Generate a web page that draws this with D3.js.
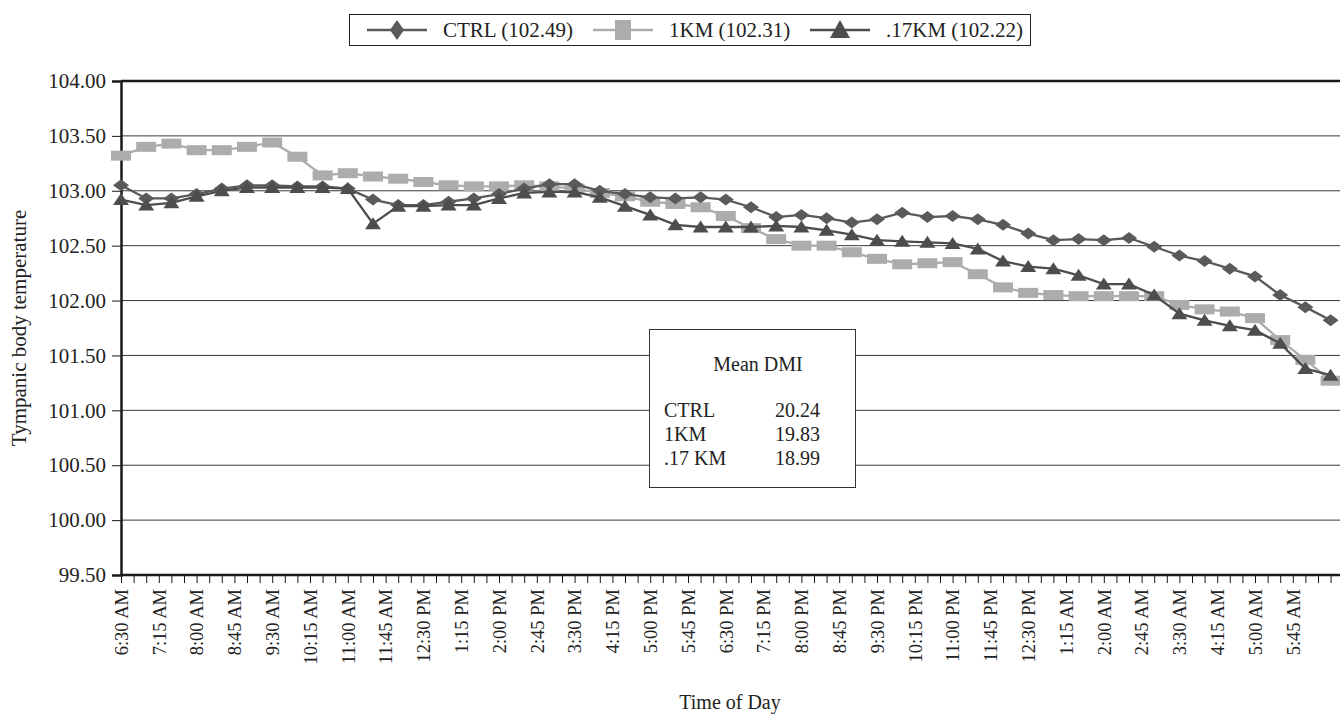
<!DOCTYPE html>
<html>
<head>
<meta charset="utf-8">
<script src="https://cdn.jsdelivr.net/npm/d3@7"></script>
<style>
  body { margin: 0; background: #fff; }
  svg { display: block; }
  svg text { font-family: "Liberation Serif", "DejaVu Serif", serif; fill: #222; }
  .grid line { stroke: #3a3a3a; stroke-width: 1; }
</style>
</head>
<body>
<div id="vis"></div>
<script>
// Chart area
const WIDTH = 1340;
const HEIGHT = 715;
const PLOT = {left: 121, top: 81, bottom: 575, slot: 12.6};

// tick labels on the x axis, one label every third 15-minute tick
const X_LABELS = ["6:30 AM","7:15 AM","8:00 AM","8:45 AM","9:30 AM","10:15 AM","11:00 AM","11:45 AM",
  "12:30 PM","1:15 PM","2:00 PM","2:45 PM","3:30 PM","4:15 PM","5:00 PM","5:45 PM",
  "6:30 PM","7:15 PM","8:00 PM","8:45 PM","9:30 PM","10:15 PM","11:00 PM","11:45 PM",
  "12:30 PM","1:15 AM","2:00 AM","2:45 AM","3:30 AM","4:15 AM","5:00 AM","5:45 AM"];
const N_TICKS = 98;          // 15-minute ticks drawn
const SAMPLE_STEP = 2;       // a reading every 30 minutes

const Y_TICKS = [99.5, 100, 100.5, 101, 101.5, 102, 102.5, 103, 103.5, 104];

// series values (tympanic temperature, every 30 min from 6:30 AM)
const CTRL = [103.05,102.93,102.93,102.97,103.02,103.05,103.05,103.04,103.04,103.02,
  102.92,102.87,102.87,102.90,102.93,102.97,103.02,103.06,103.06,103.00,
  102.97,102.94,102.93,102.94,102.92,102.85,102.76,102.78,102.75,102.71,
  102.74,102.80,102.76,102.77,102.74,102.69,102.61,102.55,102.56,102.55,
  102.57,102.49,102.41,102.36,102.29,102.22,102.05,101.94,101.82];
const KM1 = [103.32,103.40,103.43,103.37,103.37,103.40,103.44,103.31,103.14,103.16,
  103.13,103.11,103.08,103.05,103.04,103.04,103.05,103.04,103.02,102.98,
  102.95,102.90,102.88,102.85,102.77,102.66,102.56,102.50,102.50,102.44,
  102.38,102.33,102.34,102.35,102.24,102.12,102.07,102.05,102.04,102.04,
  102.04,102.04,101.96,101.92,101.90,101.84,101.64,101.46,101.27];
const KM017 = [102.92,102.87,102.89,102.95,103.00,103.03,103.03,103.03,103.03,103.02,
  102.70,102.86,102.86,102.87,102.87,102.93,102.98,102.99,102.99,102.94,
  102.86,102.78,102.69,102.67,102.67,102.67,102.68,102.67,102.64,102.60,
  102.55,102.54,102.53,102.52,102.47,102.36,102.31,102.29,102.23,102.15,
  102.15,102.05,101.88,101.82,101.77,101.73,101.61,101.38,101.32];

const SERIES = [
  {name: "CTRL (102.49)", values: CTRL, color: "#5a5a5a", marker: "diamond"},
  {name: "1KM (102.31)", values: KM1, color: "#acacac", marker: "square"},
  {name: ".17KM (102.22)", values: KM017, color: "#4d4d4d", marker: "triangle"}
];

const DMI_NAMES = ["CTRL", "1KM", ".17 KM"];
const DMI_VALUES = ["20.24", "19.83", "18.99"];

const svg = d3.select("#vis").append("svg")
  .attr("width", WIDTH).attr("height", HEIGHT);

const X_SCALE = d3.scaleLinear()
  .domain([0, N_TICKS - 1])
  .range([PLOT.left, PLOT.left + (N_TICKS - 1) * PLOT.slot]);
const Y_SCALE = d3.scaleLinear()
  .domain([99.5, 104])
  .range([PLOT.bottom, PLOT.top]);
const RIGHT = WIDTH + 10;

// gridlines
svg.append("g").attr("class", "grid")
  .selectAll("line").data(Y_TICKS.slice(1, -1)).enter().append("line")
  .attr("x1", PLOT.left).attr("x2", RIGHT)
  .attr("y1", d => Y_SCALE(d)).attr("y2", d => Y_SCALE(d));

// top border
svg.append("line").attr("x1", PLOT.left).attr("x2", RIGHT)
  .attr("y1", Y_SCALE(104)).attr("y2", Y_SCALE(104))
  .attr("stroke", "#1a1a1a").attr("stroke-width", 2.5);

// y axis
const yAxis = svg.append("g")
  .attr("transform", "translate(" + PLOT.left + ",0)")
  .call(d3.axisLeft(Y_SCALE).tickValues(Y_TICKS).tickFormat(d3.format(".2f")).tickSize(9).tickPadding(6));
yAxis.attr("font-family", null).attr("font-size", null);
yAxis.select(".domain").attr("stroke", "#1a1a1a").attr("stroke-width", 2.5);
yAxis.selectAll(".tick line").attr("stroke", "#1a1a1a");
yAxis.selectAll(".tick text").style("font-size", "21px");

// x axis: ticks every 15 minutes, labels every 45
const xAxis = svg.append("g")
  .attr("transform", "translate(0," + PLOT.bottom + ")")
  .call(d3.axisBottom(X_SCALE)
    .tickValues(d3.range(N_TICKS))
    .tickFormat(i => i % 3 === 0 ? (X_LABELS[i / 3] || "") : "")
    .tickSize(8).tickSizeOuter(0));
xAxis.attr("font-family", null).attr("font-size", null);
xAxis.select(".domain").attr("stroke", "#1a1a1a").attr("stroke-width", 2.5)
  .attr("d", "M" + PLOT.left + ",0H" + RIGHT);
xAxis.selectAll(".tick line").attr("stroke", "#1a1a1a");
xAxis.selectAll(".tick text")
  .attr("transform", "rotate(-90)")
  .attr("text-anchor", "end")
  .attr("x", -14).attr("y", 0).attr("dy", "0.34em")
  .style("font-size", "18.5px");

// marker shapes
function markerPath(type) {
  if (type === "diamond") return "M0,-6L8,0L0,6L-8,0Z";
  if (type === "square") return "M-10,-5H10V5H-10Z";
  return "M0,-6.5L8,5.5H-8Z";
}
function legendMarker(type) {
  if (type === "diamond") return "M0,-10L7,0L0,10L-7,0Z";
  if (type === "square") return "M-8,-10H8V10H-8Z";
  return "M0,-10L10,8H-10Z";
}

const line = d3.line()
  .x((d, i) => X_SCALE(i * SAMPLE_STEP))
  .y(d => Y_SCALE(d));

// draw series (light series first so the dark ones sit on top)
[SERIES[1], SERIES[0], SERIES[2]].forEach(s => {
  const g = svg.append("g");
  g.append("path").datum(s.values)
    .attr("d", line).attr("fill", "none")
    .attr("stroke", s.color).attr("stroke-width", 2.3);
  g.selectAll("path.mk").data(s.values).enter().append("path")
    .attr("class", "mk")
    .attr("d", markerPath(s.marker))
    .attr("transform", (d, i) => "translate(" + X_SCALE(i * SAMPLE_STEP) + "," + Y_SCALE(d) + ")")
    .attr("fill", s.color);
});

// legend
const legend = svg.append("g");
legend.append("rect").attr("x", 349.5).attr("y", 14.5).attr("width", 681).attr("height", 31)
  .attr("fill", "#fff").attr("stroke", "#222").attr("stroke-width", 1);
const LEG_X = [367, 593, 810];
SERIES.forEach((s, i) => {
  const x0 = LEG_X[i];
  legend.append("line").attr("x1", x0).attr("x2", x0 + 60).attr("y1", 30).attr("y2", 30)
    .attr("stroke", s.color).attr("stroke-width", 2.5);
  legend.append("path").attr("d", legendMarker(s.marker))
    .attr("transform", "translate(" + (x0 + 30) + ",30)").attr("fill", s.color);
  legend.append("text").attr("x", x0 + 76).attr("y", 37)
    .style("font-size", "21px").text(s.name);
});

// Mean DMI box
const box = svg.append("g");
box.append("rect").attr("x", 649.5).attr("y", 329.5).attr("width", 206).attr("height", 158)
  .attr("fill", "#fff").attr("stroke", "#333").attr("stroke-width", 1);
box.append("text").attr("x", 758).attr("y", 371).attr("text-anchor", "middle")
  .style("font-size", "20px").text("Mean DMI");
DMI_NAMES.forEach((n, i) => {
  box.append("text").attr("x", 664).attr("y", 417 + i * 24)
    .style("font-size", "20px").text(n);
  box.append("text").attr("x", 775).attr("y", 417 + i * 24)
    .style("font-size", "20px").text(DMI_VALUES[i]);
});

// axis titles
svg.append("text")
  .attr("transform", "translate(26," + ((PLOT.top + PLOT.bottom) / 2) + ") rotate(-90)")
  .attr("text-anchor", "middle").style("font-size", "21px")
  .text("Tympanic body temperature");
svg.append("text").attr("x", 730).attr("y", 709).attr("text-anchor", "middle")
  .style("font-size", "20px").text("Time of Day");
</script>
</body>
</html>
